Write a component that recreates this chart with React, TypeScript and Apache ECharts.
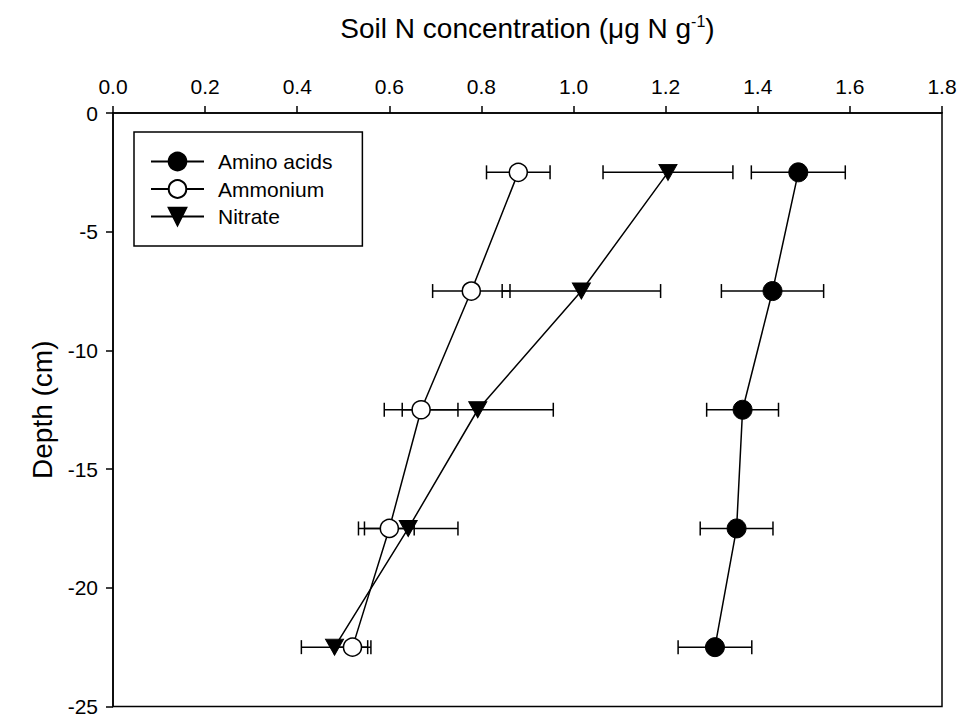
import React, { useEffect, useRef } from "react";
import * as echarts from "echarts";

const depths = [-2.5, -7.5, -12.5, -17.5, -22.5];
const aminoAcids = [1.488, 1.432, 1.367, 1.354, 1.307];
const aminoAcidsErr = [0.102, 0.111, 0.078, 0.079, 0.08];
const ammonium = [0.88, 0.778, 0.669, 0.6, 0.52];
const ammoniumErr = [0.069, 0.084, 0.08, 0.054, 0.04];
const nitrate = [1.205, 1.017, 0.792, 0.641, 0.481];
const nitrateErr = [0.141, 0.172, 0.164, 0.108, 0.072];
const seriesNames = ["Amino acids", "Ammonium", "Nitrate"];

const FONT = "Liberation Sans";

function errData(vals: number[], errs: number[]) {
  return depths.map((d, i) => [d, vals[i] - errs[i], vals[i] + errs[i]]);
}

function pts(vals: number[]) {
  return depths.map((d, i) => [vals[i], d]);
}

const renderErr = (params: any, api: any) => {
  const y = api.value(0);
  const lo = api.coord([api.value(1), y]);
  const hi = api.coord([api.value(2), y]);
  const cap = 7;
  const style = { stroke: "#000", lineWidth: 1.5 };
  return {
    type: "group",
    children: [
      { type: "line", shape: { x1: lo[0], y1: lo[1], x2: hi[0], y2: hi[1] }, style },
      { type: "line", shape: { x1: lo[0], y1: lo[1] - cap, x2: lo[0], y2: lo[1] + cap }, style },
      { type: "line", shape: { x1: hi[0], y1: hi[1] - cap, x2: hi[0], y2: hi[1] + cap }, style },
    ],
  };
};

export default function App() {
  const ref = useRef<HTMLDivElement>(null);
  useEffect(() => {
    const chart = echarts.init(ref.current!, null, { renderer: "svg" });
    const errSeries = [
      [aminoAcids, aminoAcidsErr],
      [ammonium, ammoniumErr],
      [nitrate, nitrateErr],
    ].map(([v, e], i) => ({
      type: "custom",
      name: seriesNames[i] + " error",
      data: errData(v, e),
      encode: { x: [1, 2], y: 0 },
      renderItem: renderErr,
      z: 1,
      silent: true,
    }));
    chart.setOption({
      animation: false,
      backgroundColor: "#fff",
      textStyle: { fontFamily: FONT },
      grid: {
        left: 113,
        top: 113,
        right: 21,
        bottom: 5,
        show: true,
        borderColor: "#000",
        borderWidth: 1.5,
      },
      legend: {
        data: seriesNames,
        orient: "vertical",
        left: 134,
        top: 132,
        itemWidth: 53,
        itemHeight: 22,
        itemGap: 6.5,
        padding: [19, 30, 19, 16],
        borderColor: "#000",
        borderWidth: 1.5,
        textStyle: { fontSize: 21, color: "#000", fontFamily: FONT, padding: [0, 0, 0, 9] },
      },
      xAxis: {
        type: "value",
        position: "top",
        min: 0,
        max: 1.8,
        interval: 0.2,
        name: "{a|Soil N concentration (μg N g}{s|-1}{a|)}",
        nameLocation: "middle",
        nameGap: 69,
        nameTextStyle: {
          rich: {
            a: { fontSize: 28, color: "#000", fontFamily: FONT },
            s: { fontSize: 16, color: "#000", fontFamily: FONT, padding: [0, 0, 15, 0] },
          },
        },
        axisLine: { lineStyle: { color: "#000", width: 1.5 } },
        axisTick: { length: 7, lineStyle: { color: "#000", width: 1.5 } },
        axisLabel: {
          fontSize: 21,
          color: "#000",
          fontFamily: FONT,
          margin: 16,
          formatter: (v: number) => v.toFixed(1),
        },
        splitLine: { show: false },
      },
      yAxis: {
        type: "value",
        min: -25,
        max: 0,
        interval: 5,
        name: "Depth (cm)",
        nameLocation: "middle",
        nameGap: 55,
        nameRotate: 90,
        nameTextStyle: { fontSize: 28, color: "#000", fontFamily: FONT },
        axisLine: { lineStyle: { color: "#000", width: 1.5 } },
        axisTick: { length: 7, lineStyle: { color: "#000", width: 1.5 } },
        axisLabel: { fontSize: 21, color: "#000", fontFamily: FONT, margin: 15 },
        splitLine: { show: false },
      },
      series: [
        ...errSeries,
        {
          type: "line",
          name: "Amino acids",
          data: pts(aminoAcids),
          symbol: "circle",
          symbolSize: 19,
          lineStyle: { color: "#000", width: 1.5 },
          itemStyle: { color: "#000", borderColor: "#000", borderWidth: 1 },
          z: 3,
        },
        {
          type: "line",
          name: "Ammonium",
          data: pts(ammonium),
          symbol: "circle",
          symbolSize: 18,
          lineStyle: { color: "#000", width: 1.5 },
          itemStyle: { color: "#fff", borderColor: "#000", borderWidth: 1.5 },
          z: 3,
        },
        {
          type: "line",
          name: "Nitrate",
          data: pts(nitrate),
          symbol: "triangle",
          symbolRotate: 180,
          symbolSize: [18, 16],
          lineStyle: { color: "#000", width: 1.5 },
          itemStyle: { color: "#000", borderColor: "#000", borderWidth: 1 },
          z: 3,
        },
      ],
    });
    return () => chart.dispose();
  }, []);
  return <div ref={ref} style={{ width: 963, height: 717, position: "absolute", left: 0, top: 0 }} />;
}
